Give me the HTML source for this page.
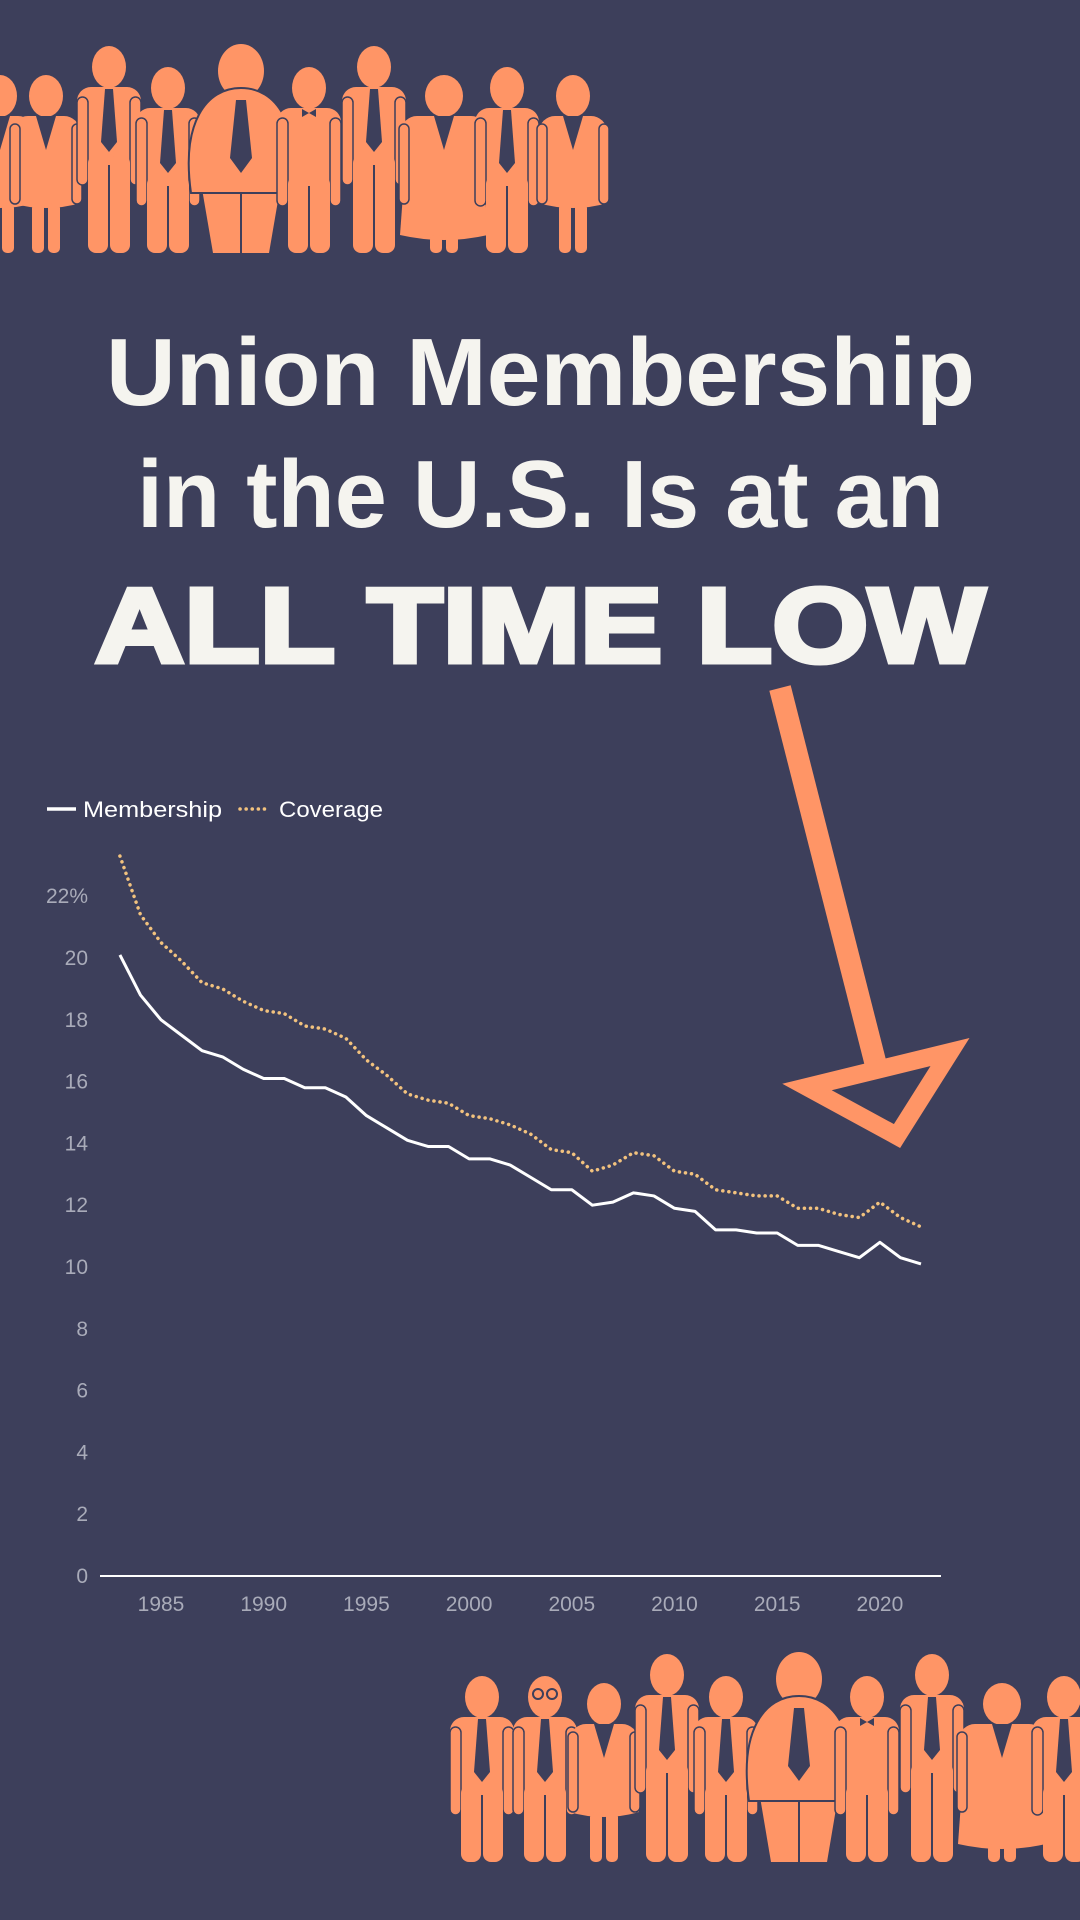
<!DOCTYPE html>
<html><head><meta charset="utf-8"><style>
html,body{margin:0;padding:0;background:#3d3f5b;}
svg{display:block}
</style></head><body>
<svg id="root" width="1080" height="1920" viewBox="0 0 1080 1920" xmlns="http://www.w3.org/2000/svg">
<rect width="1080" height="1920" fill="#3d3f5b"/>
<g id="peopleTop"></g>
<g id="peopleBottom"></g>
<g font-family="'Liberation Sans', sans-serif" fill="#f5f4ef">
<text x="106" y="405" font-size="96" font-weight="bold" textLength="869" lengthAdjust="spacingAndGlyphs">Union Membership</text>
<text x="137" y="527" font-size="96" font-weight="bold" textLength="807" lengthAdjust="spacingAndGlyphs">in the U.S. Is at an</text>
<text x="95" y="662" font-size="106" font-weight="900" stroke="#f5f4ef" stroke-width="5" textLength="890" lengthAdjust="spacingAndGlyphs">ALL TIME LOW</text>
</g>
<g>
<line x1="780" y1="688" x2="879" y2="1077" stroke="#ff9566" stroke-width="22"/>
<polygon points="807,1087 950,1052 897,1136" fill="none" stroke="#ff9566" stroke-width="18"/>
</g>
<g id="chart" font-family="'Liberation Sans', sans-serif">
<g>
<line x1="47" y1="809" x2="76" y2="809" stroke="#fff" stroke-width="3.5"/>
<text x="83" y="817" font-size="22" fill="#fff" textLength="139" lengthAdjust="spacingAndGlyphs">Membership</text>
<line x1="240" y1="809" x2="268" y2="809" stroke="#f2c27e" stroke-width="3.5" stroke-linecap="round" stroke-dasharray="0.1,6"/>
<text x="279" y="817" font-size="22" fill="#fff" textLength="104" lengthAdjust="spacingAndGlyphs">Coverage</text>
</g>
<g id="yticks"></g>
<g id="xticks"></g>
<line x1="100" y1="1576" x2="941" y2="1576" stroke="#fff" stroke-width="2"/>
<g id="series"></g>
</g>
</svg>
<script>
const years = [1983,1984,1985,1986,1987,1988,1989,1990,1991,1992,1993,1994,1995,1996,1997,1998,1999,2000,2001,2002,2003,2004,2005,2006,2007,2008,2009,2010,2011,2012,2013,2014,2015,2016,2017,2018,2019,2020,2021,2022];
const membership = [20.1,18.8,18.0,17.5,17.0,16.8,16.4,16.1,16.1,15.8,15.8,15.5,14.9,14.5,14.1,13.9,13.9,13.5,13.5,13.3,12.9,12.5,12.5,12.0,12.1,12.4,12.3,11.9,11.8,11.2,11.2,11.1,11.1,10.7,10.7,10.5,10.3,10.8,10.3,10.1];
const coverage = [23.3,21.4,20.5,19.9,19.2,19.0,18.6,18.3,18.2,17.8,17.7,17.4,16.7,16.2,15.6,15.4,15.3,14.9,14.8,14.6,14.3,13.8,13.7,13.1,13.3,13.7,13.6,13.1,13.0,12.5,12.4,12.3,12.3,11.9,11.9,11.7,11.6,12.1,11.6,11.3];
const yTicks = [0,2,4,6,8,10,12,14,16,18,20,22];
const yTickLabels = ["0","2","4","6","8","10","12","14","16","18","20","22%"];
const xTicks = [1985,1990,1995,2000,2005,2010,2015,2020];

const NS="http://www.w3.org/2000/svg";
function X(yr){return 161+(yr-1985)*20.54;}
function Y(v){return 1576-v*30.9;}
function mk(tag,attrs,parent){const e=document.createElementNS(NS,tag);for(const k in attrs)e.setAttribute(k,attrs[k]);parent.appendChild(e);return e;}

const yg=document.getElementById('yticks');
yTicks.forEach((v,i)=>{
  const t=mk('text',{x:88,y:Y(v)+7,'font-size':21,fill:'#a9abb9','text-anchor':'end'},yg);
  
  
  t.textContent=yTickLabels[i];
});
const xg=document.getElementById('xticks');
xTicks.forEach(v=>{
  const t=mk('text',{x:X(v),y:1611,'font-size':21,fill:'#a9abb9','text-anchor':'middle'},xg);
  
  
  t.textContent=String(v);
});
const sg=document.getElementById('series');
const cp=mk('polyline',{points:years.map((y,i)=>X(y)+','+Y(coverage[i])).join(' '),fill:'none',stroke:'#f2c27e','stroke-width':3.5,'stroke-dasharray':'0.1,6','stroke-linecap':'round'},sg);


const mp=mk('polyline',{points:years.map((y,i)=>X(y)+','+Y(membership[i])).join(' '),fill:'none',stroke:'#ffffff','stroke-width':3,'stroke-linejoin':'round'},sg);



// people
const OR='#ff9566',DK='#3d3f5b';
function person(g,cx,top,feet,kind){
  const p=mk('g',{},g);
  
  
  if(kind==='fat'){
    mk('ellipse',{cx:cx,cy:top+28,rx:23,ry:27,fill:OR},p);
    mk('path',{d:`M${cx-40},${top+140} L${cx-28},${feet} L${cx+28},${feet} L${cx+40},${top+140}Z`,fill:OR},p);
    mk('path',{d:`M${cx-50},${top+150} C${cx-60},${top+80} ${cx-35},${top+45} ${cx},${top+45} C${cx+35},${top+45} ${cx+60},${top+80} ${cx+50},${top+150}Z`,fill:OR,stroke:DK,'stroke-width':2},p);
    mk('polygon',{points:`${cx-5},${top+57} ${cx+5},${top+57} ${cx+11},${top+115} ${cx},${top+130} ${cx-11},${top+115}`,fill:DK},p);
    mk('line',{x1:cx,y1:top+150,x2:cx,y2:feet,stroke:DK,'stroke-width':2},p);
    return;
  }
  if(kind==='woman'||kind==='fatwoman'){
    const w=kind==='fatwoman'?80:62, sh=top+40, db=kind==='fatwoman'?feet-18:feet-50;
    mk('ellipse',{cx:cx,cy:top+20,rx:kind==='fatwoman'?19:17,ry:21,fill:OR},p);
    mk('rect',{x:cx-w/2-3,y:sh,width:w+6,height:70,rx:16,fill:OR},p);
    mk('path',{d:`M${cx-w/2+4},${sh+10} L${cx-w/2-4},${db} Q${cx},${db+10} ${cx+w/2+4},${db} L${cx+w/2-4},${sh+10}Z`,fill:OR},p);
    mk('rect',{x:cx-w/2-5,y:sh+8,width:10,height:80,rx:5,fill:OR,stroke:DK,'stroke-width':1.5},p);
    mk('rect',{x:cx+w/2-5,y:sh+8,width:10,height:80,rx:5,fill:OR,stroke:DK,'stroke-width':1.5},p);
    mk('polygon',{points:`${cx-10},${sh} ${cx+10},${sh} ${cx},${sh+34}`,fill:DK},p);
    mk('rect',{x:cx-14,y:db,width:12,height:feet-db,rx:5,fill:OR},p);
    mk('rect',{x:cx+2,y:db,width:12,height:feet-db,rx:5,fill:OR},p);
    return;
  }
  const w=64, sh=top+40, hip=top+118;
  mk('ellipse',{cx:cx,cy:top+20,rx:17,ry:21,fill:OR},p);
  mk('rect',{x:cx-w/2,y:sh,width:w,height:hip-sh,rx:14,fill:OR},p);
  mk('rect',{x:cx-w/2,y:sh+10,width:11,height:hip-sh+10,rx:5.5,fill:OR,stroke:DK,'stroke-width':1.5},p);
  mk('rect',{x:cx+w/2-11,y:sh+10,width:11,height:hip-sh+10,rx:5.5,fill:OR,stroke:DK,'stroke-width':1.5},p);
  mk('rect',{x:cx-21,y:hip-10,width:20,height:feet-hip+10,rx:8,fill:OR},p);
  mk('rect',{x:cx+1,y:hip-10,width:20,height:feet-hip+10,rx:8,fill:OR},p);
  if(kind==='bow'){
    mk('polygon',{points:`${cx-7},${sh+1} ${cx+7},${sh+9} ${cx+7},${sh+1} ${cx-7},${sh+9}`,fill:DK},p);
  } else {
    mk('polygon',{points:`${cx-4},${sh+2} ${cx+4},${sh+2} ${cx+8},${sh+55} ${cx},${sh+65} ${cx-8},${sh+55}`,fill:DK},p);
  }
}
const topG=document.getElementById('peopleTop');
[[0,76,'woman'],[46,76,'woman'],[109,47,'man'],[168,68,'man'],[241,43,'fat'],[309,68,'bow'],[374,47,'man'],[444,76,'fatwoman'],[507,68,'man'],[573,76,'woman']]
 .forEach(d=>person(topG,d[0],d[1],253,d[2]));
const botG=document.getElementById('peopleBottom');
[[482,1677,'man'],[545,1677,'man'],[604,1684,'woman'],[667,1655,'man'],[726,1677,'man'],[799,1651,'fat'],[867,1677,'bow'],[932,1655,'man'],[1002,1684,'fatwoman'],[1064,1677,'man']]
 .forEach(d=>person(botG,d[0],d[1],1862,d[2]));
const gl=mk('g',{},botG);


mk('circle',{cx:538,cy:1694,r:5,fill:'none',stroke:DK,'stroke-width':2},gl);
mk('circle',{cx:552,cy:1694,r:5,fill:'none',stroke:DK,'stroke-width':2},gl);
</script>
</body></html>
